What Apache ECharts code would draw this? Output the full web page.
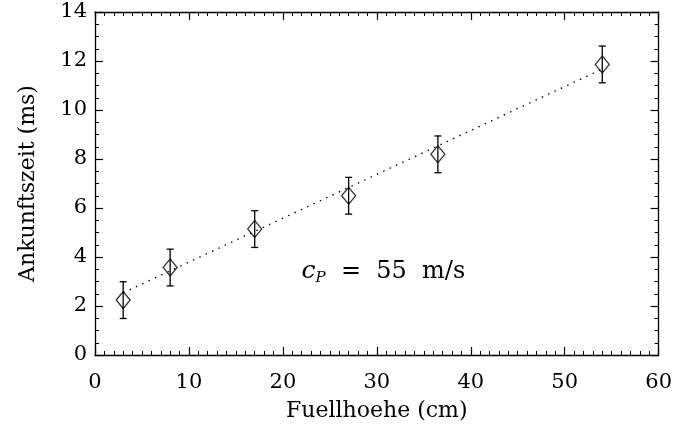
<!DOCTYPE html>
<html>
<head>
<meta charset="utf-8">
<script src="https://cdn.jsdelivr.net/npm/echarts@6/dist/echarts.min.js"></script>
<style>html,body{margin:0;padding:0;background:#fff}#c{width:675px;height:428px}</style>
</head>
<body>
<div id="c"></div>
<script>
// Data
const heights = [3, 8, 17, 27, 36.5, 54];            // Fuellhoehe (cm)
const times   = [2.24, 3.57, 5.14, 6.5, 8.19, 11.86]; // Ankunftszeit (ms)
const errors  = [0.75, 0.75, 0.75, 0.75, 0.75, 0.75];
const fitX    = [3, 54];
const fitY    = [2.54, 11.67];
const xTicks  = [0, 10, 20, 30, 40, 50, 60];
const yTicks  = [0, 2, 4, 6, 8, 10, 12, 14];
const labelPos = [30.7, 3.39];

const FONT = 'DejaVu Serif';
const chart = echarts.init(document.getElementById('c'), null, {renderer: 'canvas'});

const pts = heights.map((h, i) => [h, times[i]]);
const errData = heights.map((h, i) => [h, times[i] - errors[i], times[i] + errors[i]]);
const fitData = fitX.map((x, i) => [x, fitY[i]]);

const axisCommon = {
  axisLine: {show: true, onZero: false, lineStyle: {color: '#000', width: 1.3}},
  axisTick: {show: true, inside: true, length: 8, lineStyle: {color: '#000', width: 1.2}},
  minorTick: {show: true, length: 4, lineStyle: {color: '#000', width: 1}},
  splitLine: {show: false}
};

chart.setOption({
  animation: false,
  backgroundColor: '#fff',
  grid: {left: 95, right: 15, top: 12, bottom: 73},
  xAxis: [
    Object.assign({}, axisCommon, {
      type: 'value', min: xTicks[0], max: xTicks[xTicks.length - 1], interval: 10,
      minorTick: Object.assign({}, axisCommon.minorTick, {splitNumber: 10}),
      name: 'Fuellhoehe (cm)', nameLocation: 'middle', nameGap: 45,
      nameTextStyle: {fontFamily: FONT, fontSize: 22, color: '#000'},
      axisLabel: {margin: 17, fontFamily: FONT, fontSize: 21, color: '#000'}
    }),
    Object.assign({}, axisCommon, {
      type: 'value', position: 'top', min: 0, max: 60, interval: 10,
      minorTick: Object.assign({}, axisCommon.minorTick, {splitNumber: 10}),
      axisLabel: {show: false}
    })
  ],
  yAxis: [
    Object.assign({}, axisCommon, {
      type: 'value', min: yTicks[0], max: yTicks[yTicks.length - 1], interval: 2,
      minorTick: Object.assign({}, axisCommon.minorTick, {splitNumber: 4}),
      name: 'Ankunftszeit (ms)', nameLocation: 'middle', nameGap: 56,
      nameTextStyle: {fontFamily: FONT, fontSize: 22, color: '#000'},
      axisLabel: {margin: 8, fontFamily: FONT, fontSize: 21, color: '#000', padding: [4, 0, 0, 0]}
    }),
    Object.assign({}, axisCommon, {
      type: 'value', position: 'right', min: 0, max: 14, interval: 2,
      minorTick: Object.assign({}, axisCommon.minorTick, {splitNumber: 4}),
      axisLabel: {show: false}
    })
  ],
  series: [
    {
      type: 'line', data: fitData, symbol: 'none', silent: true,
      lineStyle: {color: '#000', width: 1.3, type: [1.5, 5.5]}
    },
    {
      type: 'custom', data: errData, silent: true,
      renderItem: function (params, api) {
        const x = api.value(0);
        const lo = api.coord([x, api.value(1)]);
        const hi = api.coord([x, api.value(2)]);
        const cap = 3.5;
        const st = {stroke: '#000', lineWidth: 1.3};
        return {type: 'group', children: [
          {type: 'line', shape: {x1: lo[0], y1: lo[1], x2: hi[0], y2: hi[1]}, style: st},
          {type: 'line', shape: {x1: lo[0] - cap, y1: lo[1], x2: lo[0] + cap, y2: lo[1]}, style: st},
          {type: 'line', shape: {x1: hi[0] - cap, y1: hi[1], x2: hi[0] + cap, y2: hi[1]}, style: st}
        ]};
      },
      z: 3
    },
    {
      type: 'scatter', data: pts, symbol: 'diamond', symbolSize: [14, 17],
      itemStyle: {color: 'rgba(0,0,0,0)', borderColor: '#000', borderWidth: 1.3},
      z: 4
    },
    {
      type: 'scatter', data: [labelPos], symbolSize: 0, silent: true,
      itemStyle: {opacity: 1},
      label: {
        show: true, position: 'inside', color: '#000', textBorderWidth: 0, opacity: 1,
        formatter: '{c|c}{p|P}{t|  =  55  m/s}',
        rich: {
          c: {fontFamily: FONT, fontStyle: 'italic', fontSize: 25, color: '#000'},
          p: {fontFamily: FONT, fontStyle: 'italic', fontSize: 15, color: '#000', padding: [12, 0, 0, 0]},
          t: {fontFamily: FONT, fontSize: 24, color: '#000'}
        }
      }
    }
  ]
});
</script>
</body>
</html>
